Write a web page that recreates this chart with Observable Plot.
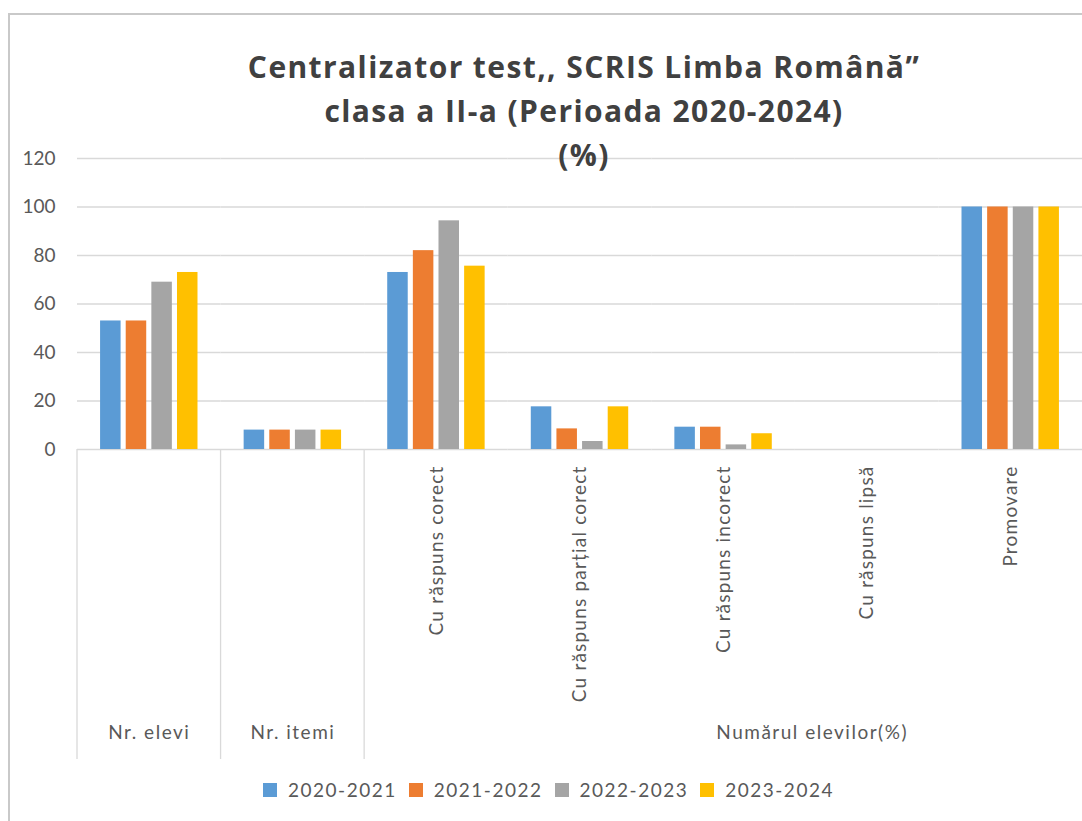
<!DOCTYPE html>
<html><head><meta charset="utf-8">
<script src="https://cdn.jsdelivr.net/npm/d3@7"></script>
<script src="https://cdn.jsdelivr.net/npm/@observablehq/plot@0.6"></script>
<style>
body{margin:0;background:#fff;}
#wrap{position:relative;width:1082px;height:821px;overflow:hidden;font-family:Lato,"Open Sans",sans-serif;background:#fff;}
#border{position:absolute;left:8px;top:13px;width:1100px;height:900px;border-left:2px solid #c9c9c9;border-top:2px solid #c9c9c9;box-sizing:border-box;}
#chart{position:absolute;left:0;top:0;}
#title{position:absolute;left:0;width:1168px;top:45px;text-align:center;font-weight:bold;font-size:30px;line-height:44px;color:#404040;font-family:"Open Sans",sans-serif;letter-spacing:1.4px;}
#legend{position:absolute;left:0;width:1097px;top:778px;display:flex;justify-content:center;gap:12px;color:#595959;font-size:19px;letter-spacing:1.5px;}
#legend .it{display:flex;align-items:center;gap:11px;}
#legend .sw{width:14px;height:14px;display:inline-block;}
.spaced{letter-spacing:1.5px;}
.spaced2{letter-spacing:1.2px;}
</style></head>
<body>
<div id="wrap">
  <div id="border"></div>
  <div id="chart"></div>
  <div id="title">Centralizator test,, SCRIS Limba Română”<br>clasa a II-a (Perioada 2020-2024)<br>(%)</div>
  <div id="legend"></div>
</div>
<script>
const categories = ["Nr. elevi","Nr. itemi","Cu răspuns corect","Cu răspuns parțial corect","Cu răspuns incorect","Cu răspuns lipsă","Promovare"];
const level1Labels = ["","","Cu răspuns corect","Cu răspuns parțial corect","Cu răspuns incorect","Cu răspuns lipsă","Promovare"];
const seriesNames = ["2020-2021","2021-2022","2022-2023","2023-2024"];
const v2020_2021 = [53, 8, 73, 17.6, 9.2, 0, 100];
const v2021_2022 = [53, 8, 82, 8.5, 9.2, 0, 100];
const v2022_2023 = [69, 8, 94.3, 3.3, 1.9, 0, 100];
const v2023_2024 = [73, 8, 75.6, 17.6, 6.5, 0, 100];
const colors = ["#5B9BD5","#ED7D31","#A5A5A5","#FFC000"];
const yTicks = [0, 20, 40, 60, 80, 100, 120];
const groupLabels = ["Nr. elevi","Nr. itemi"];
const groupBigLabel = "Numărul elevilor(%)";
const groupStarts = ["Nr. elevi","Nr. itemi","Cu răspuns corect"];

const seriesValues = [v2020_2021, v2021_2022, v2022_2023, v2023_2024];
const data = [];
categories.forEach((c, i) => seriesNames.forEach((s, j) => data.push({category: c, series: s, value: seriesValues[j][i]})));

const plot = Plot.plot({
  width: 1082, height: 821,
  marginLeft: 77, marginRight: 0, marginTop: 158, marginBottom: 372,
  style: {fontFamily: "Lato, 'Open Sans', sans-serif", fontSize: "19px", color: "#595959", background: "transparent"},
  fx: {domain: categories, padding: 0, label: null, round: false},
  x: {domain: seriesNames, paddingInner: 0.2, paddingOuter: 0.9, axis: null, round: false},
  y: {domain: [0, 120], axis: null},
  color: {domain: seriesNames, range: colors},
  marks: [
    Plot.gridY(yTicks, {stroke: "#d9d9d9", strokeOpacity: 1, strokeWidth: 1.3}),
    Plot.axisY(yTicks, {tickSize: 0, tickPadding: 22, label: null, fontSize: 19}),
    Plot.axisFx({anchor: "bottom", tickRotate: -90, tickSize: 0, tickPadding: 16, label: null, fontSize: 19, className: "spaced2",
      tickFormat: d => level1Labels[categories.indexOf(d)]}),
    Plot.barY(data, {fx: "category", x: "series", y: "value", fill: "series"}),
    Plot.text(groupLabels, {fx: d => d, text: d => d, frameAnchor: "bottom", dy: 289, fontSize: 19, className: "spaced"}),
    Plot.text([groupBigLabel], {fx: () => "Cu răspuns lipsă", text: d => d, frameAnchor: "bottom", dy: 289, dx: -55, fontSize: 19, className: "spaced"})
  ]
});

const fxs = plot.scale("fx"), ys = plot.scale("y");
const y0 = ys.apply(0);
d3.select(plot).append("g").attr("stroke", "#d9d9d9").attr("stroke-width", 1.3)
  .selectAll("line").data(groupStarts).join("line")
  .attr("x1", d => fxs.apply(d)).attr("x2", d => fxs.apply(d))
  .attr("y1", y0).attr("y2", y0 + 310);

document.getElementById("chart").appendChild(plot);

const lg = d3.select("#legend");
seriesNames.forEach((s, i) => {
  const it = lg.append("div").attr("class", "it");
  it.append("span").attr("class", "sw").style("background", colors[i]);
  it.append("span").text(s);
});
</script>
</body></html>
